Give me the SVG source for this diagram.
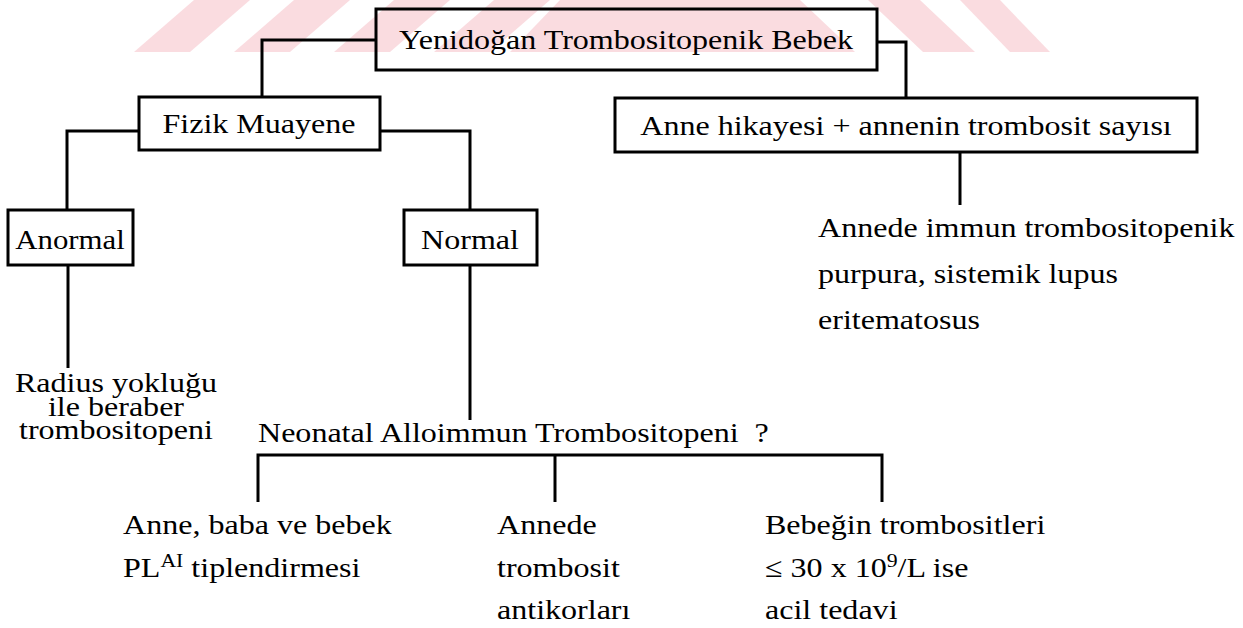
<svg xmlns="http://www.w3.org/2000/svg" width="1243" height="628" viewBox="0 0 1243 628">
<style>
.box{fill:none;stroke:#000;stroke-width:3}
.ln{fill:none;stroke:#000;stroke-width:3}
.t{font-family:"Liberation Serif","Times New Roman",serif;font-size:28px;fill:#000}
.sup{font-size:19px}
.c{text-anchor:middle}
.wm{fill:#f9d3d8;opacity:0.8}
</style>
<rect width="1243" height="628" fill="#fff"/>
<g id="watermark">
<polygon class="wm" points="134,52 190,52 250,0 194,0"/>
<polygon class="wm" points="234,52 290,52 350,0 294,0"/>
<polygon class="wm" points="334,52 390,52 450,0 394,0"/>
<polygon class="wm" points="434,52 490,52 550,0 494,0"/>
<polygon class="wm" points="560,0 800,0 855,52 510,52"/>
<polygon class="wm" points="868,0 920,0 975,52 923,52"/>
<polygon class="wm" points="960,0 1000,0 1050,52 1010,52"/>
</g>
<g id="connectors">
<polyline class="ln" points="376,40 262,40 262,97"/>
<polyline class="ln" points="877,42 906,42 906,98"/>
<polyline class="ln" points="139,131 67,131 67,210"/>
<polyline class="ln" points="380,131 470,131 470,210"/>
<line class="ln" x1="960" y1="152" x2="960" y2="205"/>
<line class="ln" x1="68" y1="265" x2="68" y2="368"/>
<line class="ln" x1="470" y1="265" x2="470" y2="420"/>
<polyline class="ln" points="258,502 258,455 882,455 882,502"/>
<line class="ln" x1="555" y1="455" x2="555" y2="502"/>
</g>
<g id="n-root">
<rect class="box" x="376" y="9" width="501" height="61"/>
<text class="t c" transform="translate(626 49) scale(1.145 1)">Yenidoğan Trombositopenik Bebek</text>
</g>
<g id="n-fizik">
<rect class="box" x="139" y="97" width="241" height="53"/>
<text class="t c" transform="translate(259 133) scale(1.145 1)">Fizik Muayene</text>
</g>
<g id="n-anne">
<rect class="box" x="615" y="98" width="582" height="54"/>
<text class="t c" transform="translate(906 135) scale(1.145 1)">Anne hikayesi + annenin trombosit sayısı</text>
</g>
<g id="n-anormal">
<rect class="box" x="8" y="210" width="125" height="55"/>
<text class="t c" transform="translate(70 249) scale(1.1 1)">Anormal</text>
</g>
<g id="n-normal">
<rect class="box" x="404" y="210" width="133" height="55"/>
<text class="t c" transform="translate(470 249) scale(1.145 1)">Normal</text>
</g>
<g id="n-itp">
<text class="t" transform="translate(818 237) scale(1.145 1)">Annede immun trombositopenik<tspan x="0" dy="46">purpura, sistemik lupus</tspan><tspan x="0" dy="46">eritematosus</tspan></text>
</g>
<g id="n-radius">
<text class="t c" transform="translate(116 392) scale(1.145 1)">Radius yokluğu<tspan x="0" dy="23.5">ile beraber</tspan><tspan x="0" dy="23.5">trombositopeni</tspan></text>
</g>
<g id="n-nait">
<text class="t" transform="translate(258 442) scale(1.145 1)" xml:space="preserve">Neonatal Alloimmun Trombositopeni  ?</text>
</g>
<g id="n-pla">
<text class="t" transform="translate(123 534) scale(1.145 1)">Anne, baba ve bebek<tspan x="0" dy="43">PL</tspan><tspan class="sup" dy="-10">AI</tspan><tspan dy="10"> tiplendirmesi</tspan></text>
</g>
<g id="n-antikor">
<text class="t" transform="translate(497 534) scale(1.145 1)">Annede<tspan x="0" dy="43">trombosit</tspan><tspan x="0" dy="42">antikorları</tspan></text>
</g>
<g id="n-tedavi">
<text class="t" transform="translate(765 534) scale(1.145 1)">Bebeğin trombositleri<tspan x="0" dy="43">≤ 30 x 10</tspan><tspan class="sup" dy="-10">9</tspan><tspan dy="10">/L ise</tspan><tspan x="0" dy="42">acil tedavi</tspan></text>
</g>
</svg>
